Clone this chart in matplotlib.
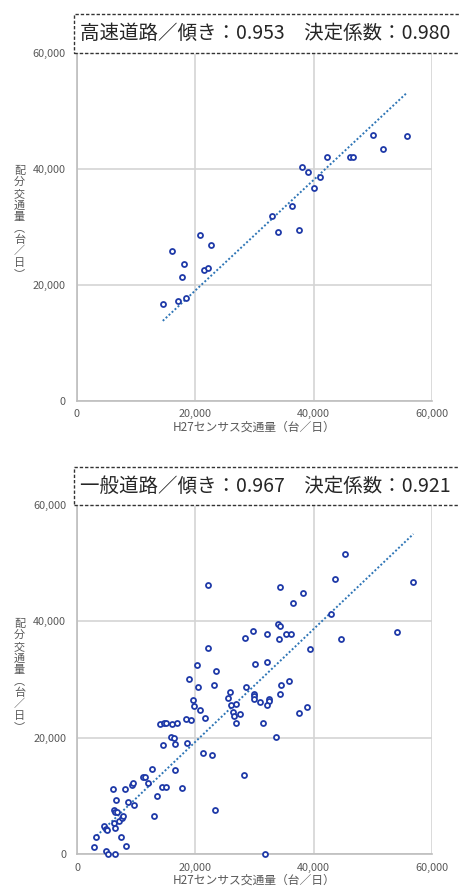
import numpy as np
import matplotlib
matplotlib.use("Agg")
import matplotlib.pyplot as plt
from matplotlib.patches import Rectangle
from matplotlib.ticker import FuncFormatter

plt.rcParams["font.family"] = ["Noto Sans CJK JP", "DejaVu Sans"]

# ---- data: H27 census traffic vs. assigned traffic (vehicles/day) ----
hw_x = [14500, 16100, 17100, 17800, 18000, 18400, 20800, 21400, 22200, 22700,
        33900, 32900, 36300, 37500, 40100, 41000, 39100, 38000, 42300, 46200,
        46700, 50100, 51700, 55800]
hw_y = [16700, 25800, 17200, 21400, 23700, 17800, 28700, 22500, 22900, 26900,
        29200, 31900, 33700, 29400, 36700, 38700, 39500, 40300, 42000, 42000,
        42100, 45800, 43400, 45700]
hw_slope = 0.953
hw_r2 = 0.980

gen_x = [2800, 3100, 4500, 4800, 5100, 4900, 5200, 6300, 6000, 6500,
         6200, 6300, 6700, 6200, 6400, 7000, 7400, 8200, 7600, 7800,
         8100, 8500, 9600, 9300, 9500, 11100, 11400, 11900, 12600, 13000,
         13500, 14400, 15000, 14500, 15800, 16400, 16500, 16500, 17700, 14000,
         14700, 15100, 16000, 16800, 18400, 19200, 18600, 21300, 22800, 23300,
         28200, 31800, 19600, 19800, 20800, 21600, 18900, 20200, 20400, 22200,
         22100, 23200, 23500, 25500, 25800, 26100, 26900, 26400, 26500, 27600,
         26800, 28400, 28600, 29800, 30000, 29900, 29900, 29900, 31000, 31500,
         32100, 32100, 32400, 32400, 32200, 33600, 34000, 34300, 34200, 34300,
         34500, 35300, 36200, 35900, 34300, 36500, 38200, 37600, 38900, 39400,
         43000, 43700, 45300, 44600, 54100, 56900]
gen_y = [1300, 2900, 4800, 4400, 4100, 600, 0, 0, 11200, 9300,
         7600, 7300, 7300, 5400, 4500, 5800, 2900, 1500, 6200, 6600,
         11300, 8900, 8500, 11900, 12300, 13200, 13200, 12200, 14700, 6600,
         10000, 11600, 11600, 18700, 20100, 19900, 19000, 14400, 11400, 22400,
         22500, 22600, 22400, 22600, 23200, 23000, 19100, 17400, 17000, 7600,
         13600, 0, 26500, 25500, 24800, 23400, 30100, 32600, 28700, 35500,
         46300, 29100, 31400, 26800, 27900, 25700, 25800, 24400, 23800, 24100,
         22600, 37100, 28700, 38400, 32700, 27500, 27200, 26700, 26200, 22600,
         37900, 33100, 26700, 26400, 25600, 20100, 39600, 39200, 37000, 27500,
         29100, 37900, 37800, 29800, 45900, 43200, 44900, 24300, 25300, 35200,
         41300, 47300, 51500, 37000, 38100, 46800]
gen_slope = 0.967
gen_r2 = 0.921

axis_ticks = [0, 20000, 40000, 60000]
x_label = "H27センサス交通量（台／日）"
y_label_chars = ["配", "分", "交", "通", "量", "︵", "台", "／", "日", "︶"]

# ---- layout helpers (pixel coordinates) ----
W, H = 459, 888
fig = plt.figure(figsize=(W / 100, H / 100), dpi=100)

MARK = "#1f3aa8"
TREND = "#2e75b6"
GRID = "#d4d4d4"
SPINE = "#bdbdbd"
TICK = "#595959"


def rect(l, r, t, b):
    return [l / W, 1 - b / H, (r - l) / W, (b - t) / H]


def panel(axpos, xs, ys, slope, r2, road, box_top, box_bottom, ylab_top):
    ax = fig.add_axes(rect(*axpos))
    ax.set_xlim(0, 60000)
    ax.set_ylim(0, 60000)
    ax.set_xticks(axis_ticks)
    ax.set_yticks(axis_ticks)
    fmt = FuncFormatter(lambda v, p: f"{int(v):,}")
    ax.xaxis.set_major_formatter(fmt)
    ax.yaxis.set_major_formatter(fmt)
    ax.tick_params(length=0, labelsize=7.8, labelcolor=TICK)
    ax.tick_params(axis="y", pad=8)
    ax.tick_params(axis="x", pad=6)
    ax.grid(True, color=GRID, lw=1.2)
    ax.set_axisbelow(True)
    for s in ("top", "right"):
        ax.spines[s].set_visible(False)
    for s in ("left", "bottom"):
        ax.spines[s].set_color(SPINE)
        ax.spines[s].set_linewidth(1.2)

    xs = np.asarray(xs, float)
    ys = np.asarray(ys, float)
    xfit = np.array([xs.min(), xs.max()])
    ax.plot(xfit, slope * xfit, color=TREND, lw=1.4,
            linestyle=(0, (1, 1.1)), zorder=2)
    ax.scatter(xs, ys, s=13, facecolors="white", edgecolors=MARK,
               linewidths=1.3, zorder=3, clip_on=False)

    ax.set_xlabel(x_label, fontsize=8.5, color=TICK, labelpad=1)

    # title box with dashed border
    fig.patches.append(Rectangle((74 / W, 1 - box_bottom / H),
                                 (500 - 74) / W, (box_bottom - box_top) / H,
                                 transform=fig.transFigure, facecolor="white",
                                 edgecolor="#333333", lw=1.0,
                                 linestyle=(0, (2.4, 1.4)), zorder=5))
    title = f"{road}／傾き：{slope:.3f}　決定係数：{r2:.3f}"
    fig.text(80 / W, 1 - (box_top + box_bottom) / 2 / H, title,
             fontsize=14, ha="left", va="center", color="#262626", zorder=6)

    # vertical (stacked) y-axis label
    for i, ch in enumerate(y_label_chars):
        fig.text(19.5 / W, 1 - (ylab_top + 5.75 + i * 11.5) / H, ch,
                 fontsize=8, ha="center", va="center", color=TICK)
    return ax


panel((77, 432, 53, 401), hw_x, hw_y, hw_slope, hw_r2, "高速道路", 14, 53, 165)
panel((77.3, 431.7, 505, 854.3), gen_x, gen_y, gen_slope, gen_r2, "一般道路",
      467, 505, 618)

fig.savefig("out.png", dpi=100, facecolor="white")
